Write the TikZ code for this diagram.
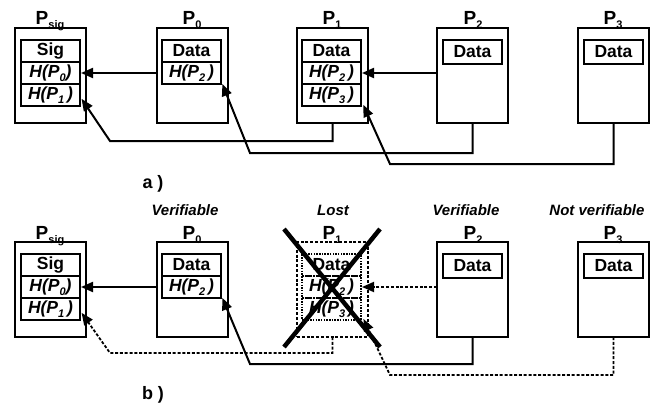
\documentclass[tikz,border=0pt]{standalone}
\usepackage{fontspec}
\setmainfont{Liberation Sans}
\usetikzlibrary{arrows.meta,calc}
\newcommand{\sbs}[1]{\raisebox{-4pt}{\fontsize{11}{11}\selectfont #1}}
\begin{document}
\begin{tikzpicture}[x=1pt,y=-1pt,
  box/.style={draw, line width=2.2pt, minimum width=71pt, minimum height=95pt, inner sep=0pt, outer sep=0pt, anchor=north west},
  lostbox/.style={box, line width=1.8pt, dash pattern=on 3pt off 1.8pt},
  cell/.style={draw, line width=1.5pt, minimum width=59pt, minimum height=22pt, inner sep=0pt, outer sep=0pt, anchor=north west, font=\bfseries\fontsize{17.5}{17.5}\selectfont},
  hcell/.style={cell, font=\bfseries\itshape\fontsize{17.5}{17.5}\selectfont},
  lostcell/.style={line width=1.1pt, dash pattern=on 1.5pt off 1.2pt},
  plabel/.style={font=\bfseries\fontsize{19}{19}\selectfont, inner sep=0pt, anchor=base},
  status/.style={font=\bfseries\itshape\fontsize{15}{15}\selectfont, inner sep=0pt},
  caption/.style={font=\bfseries\fontsize{18}{18}\selectfont, inner sep=0pt},
  arr/.style={line width=2pt, -{Triangle[length=12pt,width=10pt]}, shorten >=1pt},
  darr/.style={arr, line width=1.8pt, dash pattern=on 3pt off 1.8pt},
  cross/.style={line width=4.5pt}
]
\useasboundingbox (0,0) rectangle (655,404);

% ---------------- panel a ----------------
\node[box] (aS) at (15,28) {};
\node[cell] (aS1) at (21,40) {Sig};
\node[hcell] (aS2) at (21,62) {H(P\sbs{0})};
\node[hcell] (aS3) at (21,84) {H(P\sbs{1}\,)};
\node[box] (a0) at (157,28) {};
\node[cell] (a01) at (162,40) {Data};
\node[hcell] (a02) at (162,62) {H(P\sbs{2}\,)};
\node[box] (a1) at (297,28) {};
\node[cell] (a11) at (302,40) {Data};
\node[hcell] (a12) at (302,62) {H(P\sbs{2}\,)};
\node[hcell] (a13) at (302,84) {H(P\sbs{3}\,)};
\node[box] (a2) at (437,28) {};
\node[cell, minimum height=24pt] (a21) at (443,40) {Data};
\node[box] (a3) at (578,28) {};
\node[cell, minimum height=24pt] (a31) at (584,40) {Data};

\node[plabel] (laS) at (50,25) {P\sbs{sig}};
\node[plabel] (la0) at (192,25) {P\sbs{0}};
\node[plabel] (la1) at (332,25) {P\sbs{1}};
\node[plabel] (la2) at (473,25) {P\sbs{2}};
\node[plabel] (la3) at (613,25) {P\sbs{3}};

\coordinate (ka1) at (110,141);
\coordinate (ka2) at (250,153);
\coordinate (ka3) at (390,164);
\draw[arr] (a0.west |- aS2.east) -- (aS2.east);
\draw[arr] (a2.west |- a12.east) -- (a12.east);
\draw[arr] (a1.south) |- (ka1) -- ($(aS3.south east)+(1,-8)$);
\draw[arr] (a2.south) |- (ka2) -- ($(a02.south east)+(1,-1)$);
\draw[arr] (a3.south) |- (ka3) -- ($(a13.south east)+(2,-2)$);

\node[caption] (capa) at (153,184) {a )};

% ---------------- panel b ----------------
\begin{scope}[yshift=-214pt]
\node[box] (bS) at (15,28) {};
\node[cell] (bS1) at (21,40) {Sig};
\node[hcell] (bS2) at (21,62) {H(P\sbs{0})};
\node[hcell] (bS3) at (21,84) {H(P\sbs{1}\,)};
\node[box] (b0) at (157,28) {};
\node[cell] (b01) at (162,40) {Data};
\node[hcell] (b02) at (162,62) {H(P\sbs{2}\,)};
\node[lostbox] (b1) at (297,28) {};
\node[cell, lostcell] (b11) at (302,40) {Data};
\node[hcell, lostcell] (b12) at (302,62) {H(P\sbs{2}\,)};
\node[hcell, lostcell] (b13) at (302,84) {H(P\sbs{3}\,)};
\node[box] (b2) at (437,28) {};
\node[cell, minimum height=24pt] (b21) at (443,40) {Data};
\node[box] (b3) at (578,28) {};
\node[cell, minimum height=24pt] (b31) at (584,40) {Data};

\node[plabel] (lbS) at (50,25) {P\sbs{sig}};
\node[plabel] (lb0) at (192,25) {P\sbs{0}};
\node[plabel] (lb1) at (332,25) {P\sbs{1}};
\node[plabel] (lb2) at (473,25) {P\sbs{2}};
\node[plabel] (lb3) at (613,25) {P\sbs{3}};

\node[status] (st0) at (185,-4) {Verifiable};
\node[status] (st1) at (333,-4) {Lost};
\node[status] (st2) at (466,-4) {Verifiable};
\node[status] (st3) at (597,-4) {Not verifiable};

\coordinate (kb1) at (110,139);
\coordinate (kb2) at (250,150);
\coordinate (kb3) at (390,161);
\draw[arr] (b0.west |- bS2.east) -- (bS2.east);
\draw[darr] (b2.west |- b12.east) -- (b12.east);
\draw[darr] (b1.south) |- (kb1) -- ($(bS3.south east)+(1,-8)$);
\draw[arr] (b2.south) |- (kb2) -- ($(b02.south east)+(1,-1)$);
\draw[darr] (b3.south) |- (kb3) -- ($(b13.south east)+(2,-2)$);

\coordinate (x1) at (284,15);
\coordinate (x2) at (380,133);
\coordinate (x3) at (380,15);
\coordinate (x4) at (284,133);
\draw[cross] (x1) -- (x2);
\draw[cross] (x3) -- (x4);

\node[caption] (capb) at (153,181) {b )};
\end{scope}
\end{tikzpicture}
\end{document}
